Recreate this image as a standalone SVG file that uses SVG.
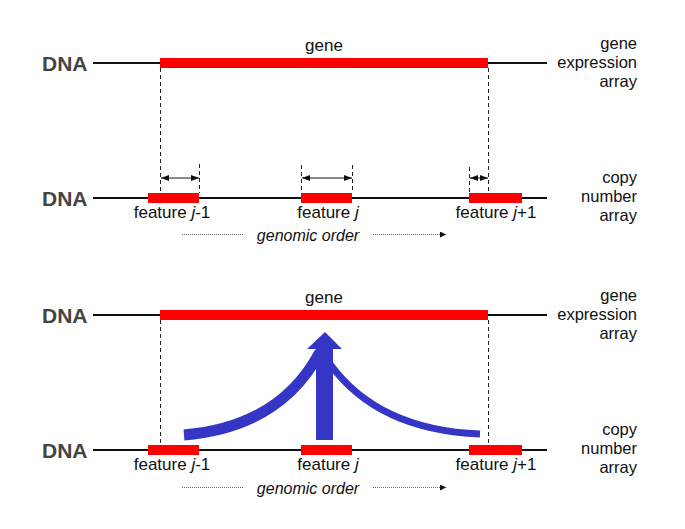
<svg xmlns="http://www.w3.org/2000/svg" width="685" height="529" viewBox="0 0 685 529">
<defs>
<style>
.t{font-family:"Liberation Sans",Arial,sans-serif;font-size:16px;fill:#111}
.f{font-size:17px}
.dna{font-family:"Liberation Sans",Arial,sans-serif;font-size:21px;font-weight:bold;fill:#444}
.lab{font-family:"Liberation Sans",Arial,sans-serif;font-size:16.5px;fill:#111;text-anchor:end}
.ctr{text-anchor:middle}
.it{font-style:italic}
.line{stroke:#111;stroke-width:2;fill:none}
.red{fill:#ff0000}
.dash{stroke:#222;stroke-width:1;stroke-dasharray:4,3;fill:none}
.dot{stroke:#666;stroke-width:1;stroke-dasharray:1,1;fill:none}
.dim{stroke:#111;stroke-width:1;fill:none;marker-start:url(#ah);marker-end:url(#ah)}
.blue{fill:#3636c6}
.bc{stroke:#3636c6;fill:none;stroke-linecap:butt}
</style>
<marker id="ah" viewBox="0 0 8 6" refX="8" refY="3" markerWidth="8" markerHeight="6" orient="auto-start-reverse" markerUnits="userSpaceOnUse">
<path d="M0,0 L8,3 L0,6 z" fill="#111"/>
</marker>
<marker id="ah2" viewBox="0 0 6 6" refX="6" refY="3" markerWidth="6" markerHeight="6" orient="auto" markerUnits="userSpaceOnUse">
<path d="M0,0 L6,3 L0,6 z" fill="#111"/>
</marker>
</defs>
<rect width="685" height="529" fill="#fff"/>

<!-- TOP PANEL -->
<g id="top-gene-dna">
<text class="dna" x="42" y="71">DNA</text>
<line class="line" x1="93" y1="63" x2="547" y2="63"/>
<rect class="red" x="160" y="58" width="328" height="10"/>
<text class="t ctr" x="324" y="51" style="font-size:17px">gene</text>
<text class="lab" x="637" y="49">gene</text>
<text class="lab" x="637" y="68">expression</text>
<text class="lab" x="637" y="87">array</text>
</g>
<g id="top-cn-dna">
<text class="dna" x="42" y="206">DNA</text>
<line class="line" x1="93" y1="198" x2="547" y2="198"/>
<text class="lab" x="637" y="183">copy</text>
<text class="lab" x="637" y="202">number</text>
<text class="lab" x="637" y="221">array</text>
</g>
<g id="top-feature-j-1">
<rect class="red" x="148" y="193" width="51" height="10"/>
<text class="t f ctr" x="172" y="218">feature <tspan class="it">j</tspan>-1</text>
</g>
<g id="top-feature-j">
<rect class="red" x="301" y="193" width="51" height="10"/>
<text class="t f ctr" x="328" y="218">feature <tspan class="it">j</tspan></text>
</g>
<g id="top-feature-j1">
<rect class="red" x="469" y="193" width="53" height="10"/>
<text class="t f ctr" x="496" y="218">feature <tspan class="it">j</tspan>+1</text>
</g>
<g id="top-connectors">
<line class="dash" x1="160.5" y1="68" x2="160.5" y2="193"/>
<line class="dash" x1="488.5" y1="68" x2="488.5" y2="193"/>
<line class="dash" x1="199.5" y1="164" x2="199.5" y2="193"/>
<line class="dash" x1="301.5" y1="165" x2="301.5" y2="193"/>
<line class="dash" x1="352.5" y1="165" x2="352.5" y2="193"/>
<line class="dash" x1="469.5" y1="167" x2="469.5" y2="193"/>
<line class="dim" x1="161" y1="178" x2="199" y2="178"/>
<line class="dim" x1="302" y1="178" x2="352" y2="178"/>
<line class="dim" x1="470" y1="178" x2="488" y2="178"/>
<line class="dot" x1="182" y1="234.5" x2="243" y2="234.5"/>
<line class="dot" x1="373" y1="234.5" x2="446" y2="234.5" marker-end="url(#ah2)"/>
<text class="t ctr it" x="308" y="241">genomic order</text>
</g>

<!-- BOTTOM PANEL -->
<g id="bot-gene-dna">
<text class="dna" x="42" y="323">DNA</text>
<line class="line" x1="93" y1="315" x2="547" y2="315"/>
<rect class="red" x="160" y="310" width="328" height="10"/>
<text class="t ctr" x="324" y="303" style="font-size:17px">gene</text>
<text class="lab" x="637" y="301">gene</text>
<text class="lab" x="637" y="320">expression</text>
<text class="lab" x="637" y="339">array</text>
</g>
<g id="bot-cn-dna">
<text class="dna" x="42" y="458">DNA</text>
<line class="line" x1="93" y1="450" x2="547" y2="450"/>
<text class="lab" x="637" y="435">copy</text>
<text class="lab" x="637" y="454">number</text>
<text class="lab" x="637" y="473">array</text>
</g>
<g id="bot-feature-j-1">
<rect class="red" x="148" y="445" width="51" height="10"/>
<text class="t f ctr" x="172" y="470">feature <tspan class="it">j</tspan>-1</text>
</g>
<g id="bot-feature-j">
<rect class="red" x="301" y="445" width="51" height="10"/>
<text class="t f ctr" x="328" y="470">feature <tspan class="it">j</tspan></text>
</g>
<g id="bot-feature-j1">
<rect class="red" x="469" y="445" width="53" height="10"/>
<text class="t f ctr" x="496" y="470">feature <tspan class="it">j</tspan>+1</text>
</g>
<g id="bot-connectors">
<line class="dash" x1="160.5" y1="320" x2="160.5" y2="445"/>
<line class="dash" x1="488.5" y1="320" x2="488.5" y2="445"/>
<line class="dot" x1="182" y1="487.5" x2="243" y2="487.5"/>
<line class="dot" x1="373" y1="487.5" x2="446" y2="487.5" marker-end="url(#ah2)"/>
<text class="t ctr it" x="308" y="494">genomic order</text>
</g>
<g id="influence-arrows">
<path class="bc" stroke-width="11" d="M184,435 Q280,427 320,352"/>
<path class="bc" stroke-width="7" d="M330,364 Q378,430 480,434"/>
<rect class="blue" x="316" y="348" width="17" height="92"/>
<polygon class="blue" points="307,349 325,332 342,349"/>
</g>
</svg>
